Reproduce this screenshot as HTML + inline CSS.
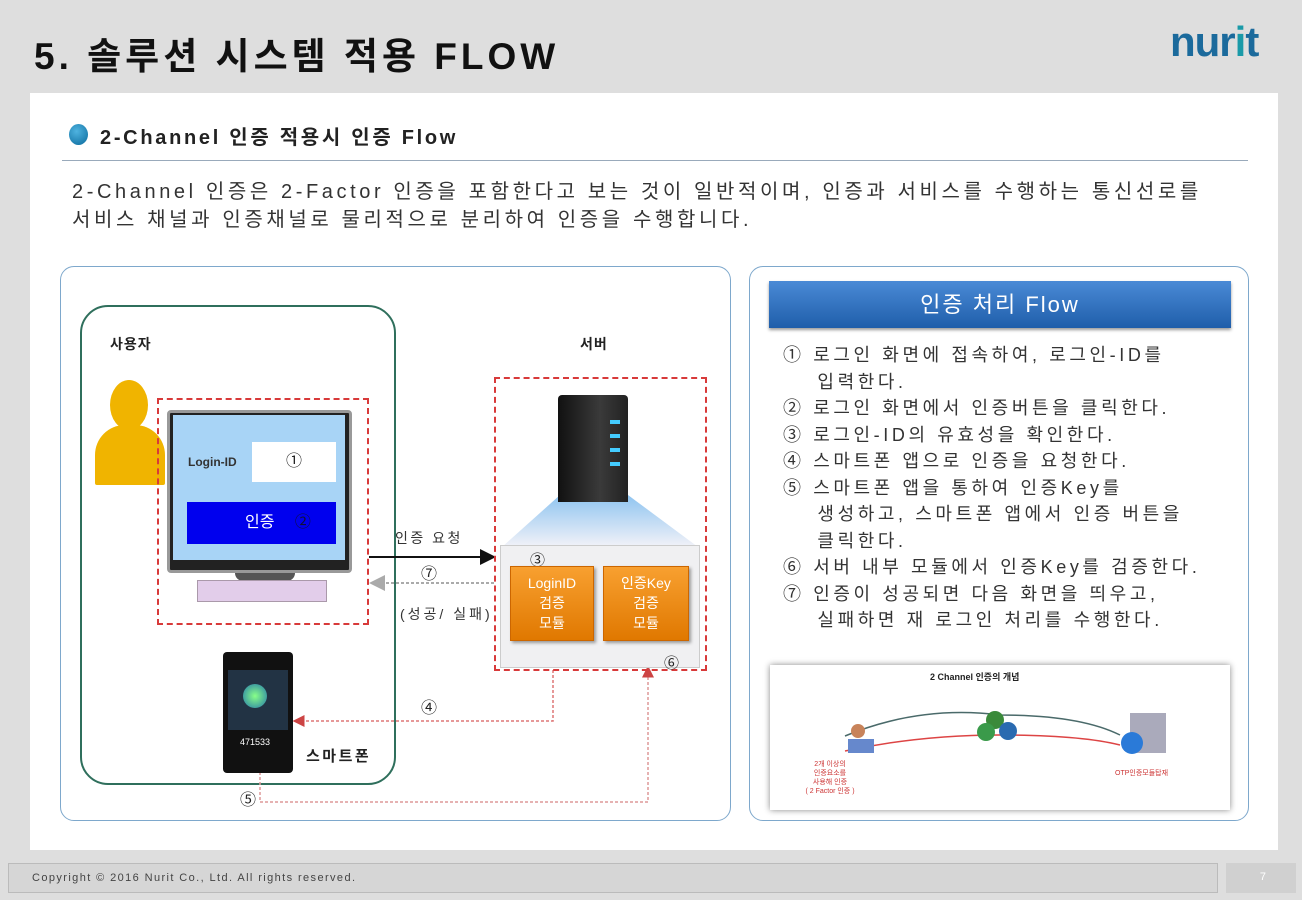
<!DOCTYPE html>
<html><head><meta charset="utf-8"><style>
*{margin:0;padding:0;box-sizing:border-box}
body{width:1302px;height:900px;background:#dedede;position:relative;overflow:hidden;font-family:"Liberation Sans","Noto Sans CJK KR",sans-serif;color:#222}
.a{position:absolute}
.t{white-space:nowrap}
.red{border:2.5px dashed #d83a3a}
.ol{font-size:18px;color:#333;line-height:26.5px;letter-spacing:3.6px}
</style></head><body>
<div class="a t" style="left:34px;top:26px;font-size:37px;font-weight:bold;color:#111;letter-spacing:4px">5. 솔루션 시스템 적용 FLOW</div>
<div class="a t" style="left:1170px;top:18px;font-size:42px;font-weight:bold;color:#1b6a9c;letter-spacing:-1px">nur<span style="color:#1a9aa8">i</span>t</div>
<div class="a" style="left:30px;top:93px;width:1248px;height:757px;background:#fff"></div>
<div class="a" style="left:69px;top:124px;width:19px;height:21px;border-radius:50%;background:radial-gradient(circle at 40% 35%,#4fb3e0,#0a6a9c)"></div>
<div class="a t" style="left:100px;top:121px;font-size:20px;font-weight:bold;color:#222;letter-spacing:2.7px">2-Channel 인증 적용시 인증 Flow</div>
<div class="a" style="left:62px;top:160px;width:1186px;height:1px;background:#9ab"></div>
<div class="a t" style="left:72px;top:178px;font-size:20px;color:#333;line-height:28px;letter-spacing:3.6px">2-Channel 인증은 2-Factor 인증을 포함한다고 보는 것이 일반적이며, 인증과 서비스를 수행하는 통신선로를<br>서비스 채널과 인증채널로 물리적으로 분리하여 인증을 수행합니다.</div>

<!-- left box -->
<div class="a" style="left:60px;top:266px;width:671px;height:555px;border:1.5px solid #7ea8cc;border-radius:14px"></div>
<div class="a" style="left:80px;top:305px;width:316px;height:480px;border:2px solid #2f6f5c;border-radius:28px"></div>
<div class="a t" style="left:110px;top:334px;font-size:14px;font-weight:bold;letter-spacing:1px">사용자</div>
<div class="a t" style="left:580px;top:334px;font-size:14px;font-weight:bold;letter-spacing:1px">서버</div>
<!-- person -->
<div class="a" style="left:110px;top:380px;width:38px;height:50px;border-radius:50%;background:#f0b400"></div>
<div class="a" style="left:95px;top:425px;width:70px;height:60px;border-radius:30px 30px 2px 2px;background:#f0b400"></div>
<div class="a red" style="left:157px;top:398px;width:212px;height:227px"></div>
<!-- monitor -->
<div class="a" style="left:167px;top:410px;width:185px;height:163px;background:#222;border:3px solid #999;border-radius:4px"></div>
<div class="a" style="left:173px;top:415px;width:172px;height:145px;background:#a8d4f6"></div>
<div class="a t" style="left:188px;top:455px;font-size:12px;font-weight:bold;color:#333">Login-ID</div>
<div class="a" style="left:252px;top:442px;width:84px;height:40px;background:#fff;text-align:center;line-height:40px;font-size:16px">①</div>
<div class="a" style="left:187px;top:502px;width:149px;height:42px;background:#0000ee;color:#fff;font-size:16px;line-height:42px;padding-left:58px">인증 <span style="color:#113;margin-left:16px">②</span></div>
<div class="a" style="left:235px;top:573px;width:60px;height:8px;background:#555;border-radius:0 0 20px 20px"></div>
<div class="a" style="left:197px;top:580px;width:130px;height:22px;background:#e2cdea;border:1px solid #a9a"></div>
<!-- arrows middle -->
<div class="a t" style="left:395px;top:528px;font-size:14px;color:#333;letter-spacing:2.5px">인증 요청</div>
<svg class="a" style="left:0;top:0" width="1302" height="900">
<defs><marker id="ab" markerWidth="8" markerHeight="8" refX="7" refY="4" orient="auto"><path d="M0,0L8,4L0,8z" fill="#111"/></marker>
<marker id="ag" markerWidth="8" markerHeight="8" refX="7" refY="4" orient="auto"><path d="M0,0L8,4L0,8z" fill="#aaa"/></marker>
<marker id="ar" markerWidth="8" markerHeight="8" refX="7" refY="4" orient="auto"><path d="M0,0L8,4L0,8z" fill="#c44"/></marker>
<linearGradient id="gl" x1="0" y1="0" x2="0" y2="1"><stop offset="0" stop-color="#8fc4f0"/><stop offset="1" stop-color="#f2f2f8"/></linearGradient></defs>
<line x1="369" y1="557" x2="494" y2="557" stroke="#111" stroke-width="2" marker-end="url(#ab)"/>
<line x1="494" y1="583" x2="371" y2="583" stroke="#aaa" stroke-width="2" stroke-dasharray="3,2" marker-end="url(#ag)"/>
<polygon points="560,495 628,495 698,547 502,547" fill="url(#gl)"/>
<polyline points="553,670 553,721 294,721" fill="none" stroke="#d77" stroke-width="1.5" stroke-dasharray="3,2" marker-end="url(#ar)"/>
<polyline points="260,772 260,802 648,802 648,667" fill="none" stroke="#d99" stroke-width="1.5" stroke-dasharray="3,2" marker-end="url(#ar)"/>
</svg>
<div class="a t" style="left:421px;top:560px;font-size:16px">⑦</div>
<div class="a t" style="left:400px;top:604px;font-size:14px;color:#333;letter-spacing:3px">(성공/ 실패)</div>
<!-- server -->
<div class="a" style="left:500px;top:545px;width:200px;height:123px;background:#f0f0f2;border:1px solid #ccc"></div>
<div class="a red" style="left:494px;top:377px;width:213px;height:294px"></div>
<div class="a" style="left:558px;top:395px;width:70px;height:107px;background:linear-gradient(90deg,#111,#3a3a3a 60%,#222);border-radius:4px 4px 0 0"></div>
<div class="a" style="left:610px;top:420px;width:10px;height:4px;background:#4cf;box-shadow:0 14px #4cf,0 28px #4cf,0 42px #4cf"></div>
<div class="a t" style="left:530px;top:549px;font-size:15px">③</div>
<div class="a" style="left:510px;top:566px;width:84px;height:75px;background:linear-gradient(#f8a030,#e07800);border:1px solid #c60;color:#fff;font-size:14px;text-align:center;line-height:20px;padding-top:6px;box-shadow:2px 2px 3px #999">LoginID<br>검증<br>모듈</div>
<div class="a" style="left:603px;top:566px;width:86px;height:75px;background:linear-gradient(#f8a030,#e07800);border:1px solid #c60;color:#fff;font-size:14px;text-align:center;line-height:20px;padding-top:6px;box-shadow:2px 2px 3px #999">인증Key<br>검증<br>모듈</div>
<div class="a t" style="left:664px;top:652px;font-size:15px">⑥</div>
<!-- phone -->
<div class="a" style="left:223px;top:652px;width:70px;height:121px;background:#111;border-radius:4px"></div>
<div class="a" style="left:228px;top:670px;width:60px;height:60px;background:#234"></div>
<div class="a" style="left:243px;top:684px;width:24px;height:24px;border-radius:50%;background:radial-gradient(#8f8,#27a)"></div>
<div class="a t" style="left:240px;top:737px;font-size:9px;color:#fff">471533</div>
<div class="a t" style="left:306px;top:745px;font-size:15px;font-weight:bold;color:#222;letter-spacing:2.5px">스마트폰</div>
<div class="a t" style="left:421px;top:694px;font-size:16px">④</div>
<div class="a t" style="left:240px;top:786px;font-size:16px">⑤</div>

<!-- right box -->
<div class="a" style="left:749px;top:266px;width:500px;height:555px;border:1.5px solid #7ea8cc;border-radius:14px"></div>
<div class="a" style="left:769px;top:281px;width:462px;height:47px;background:linear-gradient(#4a8ad6,#1f5eaa);color:#fff;font-size:22px;text-align:center;line-height:47px;box-shadow:0 2px 3px #999;letter-spacing:2px">인증 처리 Flow</div>
<div class="a t ol" style="left:783px;top:342px">① 로그인 화면에 접속하여, 로그인-ID를<br>&nbsp;&nbsp;&nbsp;&nbsp;입력한다.<br>② 로그인 화면에서 인증버튼을 클릭한다.<br>③ 로그인-ID의 유효성을 확인한다.<br>④ 스마트폰 앱으로 인증을 요청한다.<br>⑤ 스마트폰 앱을 통하여 인증Key를<br>&nbsp;&nbsp;&nbsp;&nbsp;생성하고, 스마트폰 앱에서 인증 버튼을<br>&nbsp;&nbsp;&nbsp;&nbsp;클릭한다.<br>⑥ 서버 내부 모듈에서 인증Key를 검증한다.<br>⑦ 인증이 성공되면 다음 화면을 띄우고,<br>&nbsp;&nbsp;&nbsp;&nbsp;실패하면 재 로그인 처리를 수행한다.</div>
<div class="a" style="left:770px;top:665px;width:460px;height:145px;background:#fff;box-shadow:0 0 6px #888"></div>
<div class="a t" style="left:930px;top:670px;font-size:9px;font-weight:bold">2 Channel 인증의 개념</div>
<svg class="a" style="left:770px;top:665px" width="460" height="145">
<path d="M75,71 Q150,40 230,50 Q310,50 350,70" fill="none" stroke="#4a6a6a" stroke-width="1.5"/>
<path d="M75,86 Q150,70 230,70 Q310,70 350,80" fill="none" stroke="#d44" stroke-width="1.5"/>
<circle cx="225" cy="55" r="9" fill="#3a8a3a"/><circle cx="238" cy="66" r="9" fill="#2a6ab0"/><circle cx="216" cy="67" r="9" fill="#3a9a4a"/>
<rect x="360" y="48" width="36" height="40" fill="#aab"/><circle cx="362" cy="78" r="11" fill="#2a7ad8"/>
<circle cx="88" cy="66" r="7" fill="#c8835a"/><rect x="78" y="74" width="26" height="14" fill="#6688cc"/>
</svg>
<div class="a" style="left:790px;top:760px;width:80px;font-size:7px;color:#c33;text-align:center;line-height:9px">2개 이상의<br>인증요소를<br>사용해 인증<br>( 2 Factor 인증 )</div>
<div class="a t" style="left:1115px;top:768px;font-size:7px;color:#c33">OTP인증모듈탑재</div>

<!-- footer -->
<div class="a" style="left:8px;top:863px;width:1210px;height:30px;background:#d6d6d6;border:1px solid #bbb"></div>
<div class="a t" style="left:32px;top:872px;font-size:11px;color:#444;letter-spacing:1.4px">Copyright © 2016 Nurit Co., Ltd. All rights reserved.</div>
<div class="a" style="left:1226px;top:863px;width:70px;height:30px;background:#d0d0d0;color:#fff;font-size:11px;text-align:right;padding:8px 30px 0 0">7</div>
</body></html>
